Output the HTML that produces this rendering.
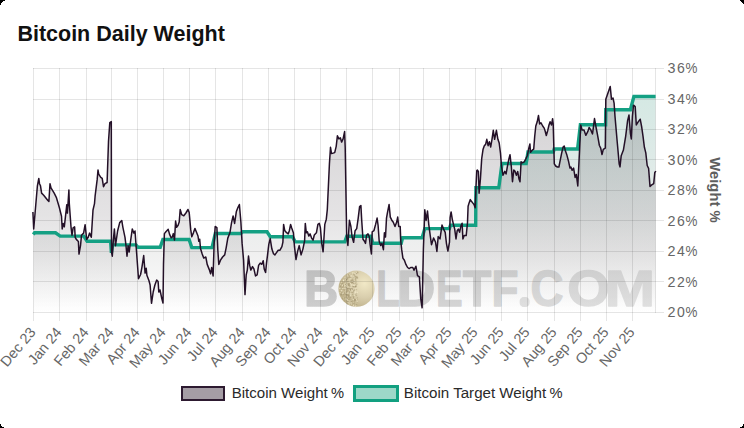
<!DOCTYPE html>
<html><head><meta charset="utf-8"><style>
html,body{margin:0;padding:0;background:#000;width:744px;height:428px;overflow:hidden}
.card{position:absolute;left:0;top:0;width:744px;height:428px;background:#fff;overflow:hidden}
svg{position:absolute;left:0;top:0}
text{font-family:"Liberation Sans",sans-serif}
</style></head><body><div class="card">
<svg width="744" height="428" viewBox="0 0 744 428">
<defs>
<linearGradient id="gw" x1="0" y1="68.5" x2="0" y2="312.5" gradientUnits="userSpaceOnUse">
<stop offset="0" stop-color="#4a404a" stop-opacity="0.26"/>
<stop offset="0.6" stop-color="#4c444c" stop-opacity="0.15"/>
<stop offset="1" stop-color="#505050" stop-opacity="0.0"/>
</linearGradient>
<linearGradient id="gt" x1="0" y1="68.5" x2="0" y2="312.5" gradientUnits="userSpaceOnUse">
<stop offset="0" stop-color="#3ca087" stop-opacity="0.24"/>
<stop offset="0.45" stop-color="#4f8a7c" stop-opacity="0.17"/>
<stop offset="0.74" stop-color="#6a6e6d" stop-opacity="0.11"/>
<stop offset="1" stop-color="#707070" stop-opacity="0.0"/>
</linearGradient>
<radialGradient id="coin" cx="0.72" cy="0.36" r="0.7">
<stop offset="0" stop-color="#f1e8c6"/>
<stop offset="0.55" stop-color="#d9cead"/>
<stop offset="1" stop-color="#bfb28c"/>
</radialGradient>
<linearGradient id="wmg" x1="307" y1="0" x2="652" y2="0" gradientUnits="userSpaceOnUse"><stop offset="0" stop-color="#4c4c4c"/><stop offset="1" stop-color="#a6a6a6"/></linearGradient>
<clipPath id="pc"><rect x="33.4" y="68.5" width="622.3000000000001" height="244.0"/></clipPath>
</defs>
<text transform="translate(17.4,40.9) scale(1.0,1)" font-size="21.5" font-weight="bold" fill="#111">Bitcoin Daily Weight</text>
<g clip-path="url(#pc)">
<path d="M33.3,234.6 34.6,232.8 55.5,232.8 60.2,236.1 83.8,236.1 87.1,241.2 110.6,241.2 111.4,253 112.3,246 113.3,244.9 136,244.9 138.1,247.3 160.2,247.3 162.9,239.5 189.1,239.5 191.8,247.6 212,247.6 215.3,233.5 240.8,233.5 242.8,231.8 267,231.8 270.3,236.8 292.5,236.8 295.2,241.9 344.8,241.9 346.8,236.2 371,236.2 372.7,243.2 401.2,243.2 402.6,237.8 422.1,237.8 424.8,228.6 449.4,228.6 450.5,225.3 475.7,225.3 475.9,187.8 498.8,187.8 502,163.5 526.2,163.5 528,152 553.3,152 554.2,149 577.6,149 580.4,124.7 605.6,124.7 605.8,109.7 630.4,109.7 633.9,96.5 655.6,96.5 L655.6,312.5 L33.3,312.5 Z" fill="url(#gt)"/>
<path d="M32.9,212 33.7,229 37.4,185.8 38.8,178.4 39.5,183.7 40.5,185.8 41.6,193.1 43.7,195.2 47.9,200.5 48.9,201.5 50,183.7 51,187.9 54.2,193.1 56.3,197.3 59.4,207.8 61.5,216.3 62.2,228.9 63.2,223.6 64.3,226.8 66.8,204.7 67.4,213.1 68.9,190 69.3,203.6 71,226.8 72,235.2 73.1,227.8 74.6,226.8 75.2,237.3 76.3,239.4 78.4,241.5 79,254.1 80.5,245.7 81.5,235.2 83.6,233.1 85.1,224.7 86.7,239.4 88.2,237.3 89.6,233.1 91.3,237.3 93,210 94.5,203.6 95.1,196.2 97.2,179.4 98,170 98.7,174.1 100.8,177.3 102.2,178.3 103.5,186.7 105,183.6 107.1,182.5 108.5,141.5 109.8,122.6 111.3,121.6 111.5,252 112.3,256.2 113.4,239.4 114.4,228.9 115.5,245.7 117.6,231 119.7,222.6 121.8,220.5 122.8,226.8 125,237.3 126,245.7 127,256.2 128.1,245.7 129.2,252 130.8,239.4 132.3,228.9 133.8,233.1 135,231 136.4,250 138.5,278.7 140.6,274.5 142,266.8 143.7,255.6 145.1,273.1 146.2,268.2 146.9,275.2 149,280.8 150.1,285 151.5,303.3 153.2,292 154.9,285 156.7,280.1 158.1,281.5 158.8,292 160,290 161.6,297.7 163,303 163.5,264 164.4,233.6 166.1,231.5 168.2,229.4 169.7,234.7 171.2,237.8 172.4,236.8 173.3,233.6 174.5,240 175.6,221 176.6,227.3 178.1,225.2 179.2,222.1 180.2,209.5 181.7,214.7 183.8,215.8 185.9,213 188,209.5 189.2,212.6 190.7,229.4 191.8,236.8 193.5,232.6 194.9,228.4 196.3,231.8 198,236 198.8,241.3 199.7,239.2 200.5,248.6 202.2,253.9 203.7,258.1 205.8,257 207.2,264.4 209.3,269.6 210.6,273.8 211.7,267.5 213.1,276 214.2,241.3 215.2,226.5 216.9,227.6 217.8,249.7 218.8,264.4 220.5,260.2 222.6,257 224.7,254.9 226.2,247.6 227.8,238.1 229.9,232.8 231.6,222.3 233.1,216 234.6,223.4 236.3,211.8 237.9,207.6 239.4,204.5 240.9,222.3 242.1,243.4 243.6,260.2 245,294.6 246.2,274.8 247.3,270.1 248.5,256.1 249.7,265.4 250.8,270.1 252.5,266.6 253.9,268.9 255.5,275.9 257.1,274.8 258.6,265.4 260.2,263.1 261.8,264.3 263.2,260.7 264.2,268.9 265.6,272.4 266.5,263.1 267.7,253.7 268.8,244.4 270.2,238.6 271.9,249.1 273.5,253.7 274.9,254.9 276.5,252.6 278.2,250.2 280,250.2 281.9,246.7 282.9,242.1 283.6,224.5 284.7,230.4 286.6,232.7 288.2,233.9 289.4,230.4 290.6,224.5 291.7,228 293.4,232.7 294.5,246.7 296,259.6 297.6,251.4 299.2,245.6 301.1,254.9 302.9,249.1 304.6,240.9 305.3,223.4 306.3,232.8 307.4,231.8 308.8,236 310.1,233.9 311.6,238.1 313,240.2 314.3,235 316.4,232.8 317.9,224.4 319.3,223.4 320.4,227.6 321.7,243.4 323.1,251.8 324.8,224.4 326.3,219.2 327.3,209.7 329.4,164.2 330.5,147.3 331.5,153.6 334.7,152.6 336.2,146.3 337.4,135.8 338.9,138.9 340.4,137.9 341.6,142.1 343.1,138.9 344.6,131.6 345.2,147.3 346.7,237 347.9,245.5 349.4,220.2 350.9,226.5 352.1,237 353.6,242.3 355.1,230.7 356.7,228.6 358.2,218.1 359.6,206.6 360.9,205.5 361.7,220.2 363,239.2 364.5,241.3 365.5,243.4 366.6,235 368,233.9 369.3,237 370.1,244.4 371.4,253.9 372.2,231.8 373.9,230.7 375.6,224.4 377.1,218.1 378.1,225.5 379.2,241.3 380.7,245.5 381.9,243.4 383.4,249.7 384.4,232.8 385.5,237 386.5,218.1 387.6,211.8 389.1,204.5 390.3,217.1 391.8,220.2 393.3,222.3 395,226.5 396.6,222.3 397.7,217.1 398.7,226.5 400.2,226.5 400.8,241.3 401.7,249.7 402.9,258.1 404.4,260.2 405.9,264.4 407.6,267.5 409.2,268.6 410.7,267.5 412.8,267.5 414,270.2 415.9,266.2 417.5,275.6 419.4,276.9 420.7,298.4 422.1,307.8 423.4,248.7 424.8,209.8 426.1,220.5 427.5,211.1 428.8,224.6 430.2,235.3 431.5,244.7 433.6,238 435.5,242 436.9,251.4 438.2,236.6 440,238.9 442,225 443.6,229.1 445.2,232.3 446.5,243.8 447.9,251 449.5,242.2 450.1,217.6 451.1,211.9 452.3,219.3 453.4,224.2 454.7,229.1 456,238.9 457.2,230.7 458.3,229.1 459.6,232.3 460.9,225.8 462.1,223.3 462.9,238.9 464.2,235.6 466.2,235.6 467.5,222.5 468.1,206.2 469.1,202.9 470.3,199.6 471.4,201.3 472.7,202.9 474,204.5 475.2,207.8 476,186.5 476.8,170.5 477.3,170.1 478.4,171.4 479.1,193.2 480.4,179.1 481.7,158.6 483,149.6 484.3,145.7 485.6,144.4 486.8,139.3 488.1,145.7 489.4,141.8 490.7,147 492,139.3 493.3,130.3 494.6,139.3 496.4,130.3 497.9,139.3 499.2,143.1 500.5,153.4 501.5,166.3 503,175.3 504.8,171.4 506.1,174 507.4,166.3 508.7,159.8 510,154.7 511.3,166.3 512.5,181.7 513.8,170.1 515.1,171.4 516.4,175.3 517.7,171.4 519,179.1 520,181.7 521.1,161.8 522.5,162.8 524.2,161.8 525.9,158.6 527.4,155.5 528.8,148.1 529.9,143.9 530.5,152.3 532.2,150.2 533.7,149.2 534.7,136.5 535.8,126 537.2,121.8 538.5,115.5 539.6,123.9 541,122.9 542.7,126 544.2,128.1 545.2,131.3 546.3,135.5 547.8,130.2 549,125 550.1,121.8 551.5,125 552.6,118.7 553.2,123.9 554.3,163.9 555.7,166 557.4,167 558.9,167 559.9,161.8 561.6,153.4 563.1,147 564.2,146 565.2,150.2 566.7,154.4 568.4,160.7 570,168.1 570.9,167 572.1,170.2 573.6,168.1 575.1,177.5 576.3,174.4 577.8,185.9 579.6,149.4 580.7,125 582.2,130.1 584,130.1 585.8,135.3 587.9,131.4 589.1,127.5 590.9,130.1 592.5,134 593.5,126.3 594.5,118.6 596.1,127.5 597.6,135.3 599.4,145.5 600.7,148.1 602,154.5 603.3,149.4 605.3,148.1 605.8,99.3 607.1,95.4 608.9,90.3 610.2,86.4 611.5,99.3 613,98 614.1,103.1 614.8,113.4 615,116.4 617.2,141.7 619.2,164.1 620,166.9 621.2,155.7 623.4,150.1 625.7,136.1 627.6,120.6 629,115 630.4,133.3 631.3,138.9 632.4,116.4 633.5,105.2 635.2,106.6 636.3,124.9 638,122.1 640.2,119.2 641.6,126.3 643,136.1 644.4,147.3 645.8,152.9 647.2,165.5 648.6,168.3 650,186.5 651.4,185.1 653.7,183.7 654.8,172.5 655.9,171.1 L655.9,312.5 L32.9,312.5 Z" fill="url(#gw)"/>
</g>
<g opacity="0.25"><g font-size="50.0" font-weight="bold"  stroke-width="1.3" stroke-linejoin="round"><text transform="translate(304.11,306.3) scale(0.951,1)" fill="#434343" stroke="#434343">B</text><text transform="translate(376.13,306.3) scale(0.768,1)" fill="#535353" stroke="#535353">L</text><text transform="translate(397.26,306.3) scale(1.057,1)" fill="#5a5a5a" stroke="#5a5a5a">D</text><text transform="translate(436.12,306.3) scale(0.799,1)" fill="#616161" stroke="#616161">E</text><text transform="translate(462.78,306.3) scale(0.937,1)" fill="#676767" stroke="#676767">T</text><text transform="translate(491.44,306.3) scale(0.884,1)" fill="#6e6e6e" stroke="#6e6e6e">F</text><rect x="520.3" y="297.6" width="8.6" height="8.8" rx="3.5" fill="#8a8a8a" stroke="#8a8a8a"/><text transform="translate(530.43,306.3) scale(0.914,1)" fill="#787878" stroke="#787878">C</text><text transform="translate(567.25,306.3) scale(1.096,1)" fill="#818181" stroke="#818181">O</text><text transform="translate(604.75,306.3) scale(1.210,1)" fill="#8b8b8b" stroke="#8b8b8b">M</text></g></g>
<circle cx="356.5" cy="288.7" r="18.1" fill="url(#coin)"/><g><rect x="350.5" y="273.2" width="0.8" height="1.2" fill="#f4ecd0" opacity="0.75"/><rect x="355.3" y="278.4" width="1.0" height="0.8" fill="#9c8f6c" opacity="0.75"/><rect x="340.1" y="286.0" width="0.8" height="0.9" fill="#f4ecd0" opacity="0.75"/><rect x="349.1" y="285.0" width="0.7" height="1.4" fill="#b3a681" opacity="0.75"/><rect x="353.6" y="277.1" width="1.2" height="0.9" fill="#f4ecd0" opacity="0.75"/><rect x="348.9" y="293.0" width="1.2" height="1.0" fill="#a89b76" opacity="0.75"/><rect x="344.2" y="291.8" width="1.0" height="0.9" fill="#a89b76" opacity="0.75"/><rect x="347.6" y="283.0" width="0.9" height="1.5" fill="#a89b76" opacity="0.75"/><rect x="340.6" y="285.7" width="0.8" height="1.1" fill="#efe6c6" opacity="0.75"/><rect x="352.6" y="291.3" width="1.0" height="1.0" fill="#efe6c6" opacity="0.75"/><rect x="347.6" y="299.4" width="1.4" height="1.5" fill="#9c8f6c" opacity="0.75"/><rect x="347.2" y="294.6" width="1.3" height="0.9" fill="#9c8f6c" opacity="0.75"/><rect x="349.1" y="295.3" width="0.9" height="1.0" fill="#a89b76" opacity="0.75"/><rect x="347.0" y="276.7" width="1.1" height="0.9" fill="#9c8f6c" opacity="0.75"/><rect x="343.7" y="297.3" width="1.0" height="1.4" fill="#a89b76" opacity="0.75"/><rect x="339.9" y="286.9" width="0.9" height="0.8" fill="#f4ecd0" opacity="0.75"/><rect x="346.4" y="290.5" width="1.5" height="1.2" fill="#a89b76" opacity="0.75"/><rect x="345.5" y="279.0" width="0.8" height="0.9" fill="#9c8f6c" opacity="0.75"/><rect x="342.7" y="288.2" width="0.8" height="0.9" fill="#f4ecd0" opacity="0.75"/><rect x="341.1" y="290.0" width="1.2" height="1.5" fill="#f4ecd0" opacity="0.75"/><rect x="351.2" y="289.3" width="1.2" height="1.3" fill="#f4ecd0" opacity="0.75"/><rect x="346.9" y="302.1" width="1.0" height="1.0" fill="#f4ecd0" opacity="0.75"/><rect x="340.3" y="293.6" width="0.9" height="1.5" fill="#9c8f6c" opacity="0.75"/><rect x="346.6" y="274.6" width="0.7" height="0.7" fill="#f4ecd0" opacity="0.75"/><rect x="354.7" y="292.8" width="1.2" height="1.5" fill="#b3a681" opacity="0.75"/><rect x="349.6" y="287.8" width="1.4" height="1.5" fill="#9c8f6c" opacity="0.75"/><rect x="347.1" y="288.1" width="0.8" height="1.3" fill="#9c8f6c" opacity="0.75"/><rect x="352.2" y="287.9" width="1.1" height="0.9" fill="#b3a681" opacity="0.75"/><rect x="356.1" y="283.7" width="1.3" height="0.9" fill="#9c8f6c" opacity="0.75"/><rect x="350.4" y="273.9" width="1.1" height="1.4" fill="#efe6c6" opacity="0.75"/><rect x="345.0" y="278.7" width="1.3" height="1.0" fill="#f4ecd0" opacity="0.75"/><rect x="356.7" y="301.5" width="1.3" height="0.9" fill="#a89b76" opacity="0.75"/><rect x="348.0" y="283.5" width="1.5" height="1.3" fill="#9c8f6c" opacity="0.75"/><rect x="347.2" y="277.6" width="1.5" height="1.1" fill="#f4ecd0" opacity="0.75"/><rect x="342.2" y="293.2" width="1.4" height="1.1" fill="#f4ecd0" opacity="0.75"/><rect x="350.5" y="299.5" width="1.4" height="0.8" fill="#9c8f6c" opacity="0.75"/><rect x="345.6" y="296.4" width="1.1" height="0.8" fill="#b3a681" opacity="0.75"/><rect x="353.1" y="282.6" width="1.1" height="1.3" fill="#a89b76" opacity="0.75"/><rect x="356.9" y="271.6" width="1.3" height="0.8" fill="#a89b76" opacity="0.75"/><rect x="350.6" y="283.3" width="1.1" height="0.7" fill="#f4ecd0" opacity="0.75"/><rect x="353.3" y="296.9" width="1.1" height="1.4" fill="#9c8f6c" opacity="0.75"/><rect x="346.5" y="302.2" width="0.7" height="0.9" fill="#b3a681" opacity="0.75"/><rect x="347.7" y="298.2" width="0.9" height="1.0" fill="#efe6c6" opacity="0.75"/><rect x="345.0" y="287.2" width="1.4" height="1.1" fill="#f4ecd0" opacity="0.75"/><rect x="353.8" y="302.4" width="1.1" height="1.1" fill="#b3a681" opacity="0.75"/><rect x="353.3" y="276.8" width="1.2" height="0.8" fill="#a89b76" opacity="0.75"/><rect x="348.3" y="288.1" width="1.4" height="0.7" fill="#9c8f6c" opacity="0.75"/><rect x="340.2" y="287.0" width="1.3" height="1.4" fill="#9c8f6c" opacity="0.75"/><rect x="346.6" y="292.8" width="1.2" height="0.9" fill="#f4ecd0" opacity="0.75"/><rect x="343.6" y="289.0" width="1.1" height="0.9" fill="#a89b76" opacity="0.75"/><rect x="348.1" y="302.3" width="1.4" height="1.4" fill="#efe6c6" opacity="0.75"/><rect x="342.2" y="286.8" width="0.8" height="1.1" fill="#a89b76" opacity="0.75"/><rect x="353.0" y="303.1" width="1.5" height="1.2" fill="#b3a681" opacity="0.75"/><rect x="345.2" y="279.8" width="1.5" height="0.9" fill="#b3a681" opacity="0.75"/><rect x="346.4" y="289.3" width="1.0" height="1.0" fill="#efe6c6" opacity="0.75"/><rect x="340.1" y="283.8" width="1.1" height="1.1" fill="#efe6c6" opacity="0.75"/><rect x="350.0" y="289.1" width="0.8" height="1.4" fill="#9c8f6c" opacity="0.75"/><rect x="355.2" y="277.2" width="1.4" height="1.4" fill="#b3a681" opacity="0.75"/><rect x="351.0" y="304.8" width="0.8" height="1.4" fill="#a89b76" opacity="0.75"/><rect x="349.0" y="296.0" width="0.9" height="1.3" fill="#9c8f6c" opacity="0.75"/><rect x="349.7" y="278.7" width="1.4" height="1.1" fill="#efe6c6" opacity="0.75"/><rect x="344.7" y="290.6" width="1.2" height="0.7" fill="#efe6c6" opacity="0.75"/><rect x="351.6" y="304.6" width="0.9" height="0.8" fill="#b3a681" opacity="0.75"/><rect x="355.7" y="293.4" width="0.9" height="1.1" fill="#b3a681" opacity="0.75"/><rect x="341.7" y="283.2" width="1.5" height="0.7" fill="#9c8f6c" opacity="0.75"/><rect x="346.7" y="294.4" width="1.2" height="1.1" fill="#a89b76" opacity="0.75"/><rect x="354.9" y="305.7" width="1.3" height="1.5" fill="#efe6c6" opacity="0.75"/><rect x="344.8" y="300.7" width="1.0" height="1.0" fill="#b3a681" opacity="0.75"/><rect x="354.6" y="294.9" width="1.2" height="1.3" fill="#efe6c6" opacity="0.75"/><rect x="345.2" y="282.5" width="1.0" height="0.7" fill="#f4ecd0" opacity="0.75"/><rect x="354.8" y="278.5" width="0.7" height="1.0" fill="#b3a681" opacity="0.75"/><rect x="347.2" y="288.8" width="0.9" height="1.3" fill="#b3a681" opacity="0.75"/><rect x="341.1" y="291.8" width="0.7" height="0.9" fill="#a89b76" opacity="0.75"/><rect x="342.7" y="291.8" width="1.4" height="0.8" fill="#f4ecd0" opacity="0.75"/><rect x="355.0" y="299.0" width="1.0" height="1.0" fill="#f4ecd0" opacity="0.75"/><rect x="356.7" y="276.0" width="0.7" height="1.4" fill="#b3a681" opacity="0.75"/><rect x="355.0" y="293.3" width="0.8" height="1.1" fill="#f4ecd0" opacity="0.75"/><rect x="347.8" y="300.8" width="1.4" height="1.2" fill="#9c8f6c" opacity="0.75"/><rect x="355.0" y="295.3" width="0.8" height="0.7" fill="#b3a681" opacity="0.75"/><rect x="345.4" y="286.9" width="1.2" height="1.2" fill="#9c8f6c" opacity="0.75"/><rect x="351.1" y="288.3" width="1.1" height="0.8" fill="#9c8f6c" opacity="0.75"/><rect x="348.2" y="297.6" width="0.9" height="0.8" fill="#a89b76" opacity="0.75"/><rect x="343.3" y="297.0" width="0.9" height="1.2" fill="#b3a681" opacity="0.75"/><rect x="347.0" y="301.2" width="1.1" height="1.2" fill="#9c8f6c" opacity="0.75"/><rect x="352.7" y="292.9" width="0.8" height="0.8" fill="#b3a681" opacity="0.75"/><rect x="343.1" y="297.5" width="1.2" height="0.8" fill="#efe6c6" opacity="0.75"/><rect x="347.4" y="288.2" width="1.3" height="1.2" fill="#9c8f6c" opacity="0.75"/><rect x="343.8" y="289.3" width="1.1" height="1.3" fill="#a89b76" opacity="0.75"/><rect x="340.0" y="287.7" width="1.1" height="1.4" fill="#efe6c6" opacity="0.75"/><rect x="342.3" y="291.6" width="1.3" height="0.9" fill="#b3a681" opacity="0.75"/><rect x="345.1" y="292.4" width="0.9" height="0.8" fill="#f4ecd0" opacity="0.75"/><rect x="345.2" y="288.6" width="1.0" height="0.8" fill="#a89b76" opacity="0.75"/><rect x="351.9" y="285.7" width="1.0" height="1.4" fill="#a89b76" opacity="0.75"/><rect x="354.0" y="274.9" width="1.3" height="1.4" fill="#b3a681" opacity="0.75"/><rect x="343.8" y="284.1" width="1.0" height="1.4" fill="#a89b76" opacity="0.75"/><rect x="352.5" y="301.5" width="0.8" height="1.4" fill="#efe6c6" opacity="0.75"/><rect x="343.0" y="280.2" width="1.0" height="1.3" fill="#f4ecd0" opacity="0.75"/><rect x="353.0" y="286.1" width="1.3" height="1.2" fill="#9c8f6c" opacity="0.75"/><rect x="355.4" y="304.7" width="0.9" height="0.8" fill="#f4ecd0" opacity="0.75"/><rect x="355.8" y="285.5" width="1.2" height="0.9" fill="#b3a681" opacity="0.75"/><rect x="340.8" y="287.7" width="0.9" height="0.9" fill="#efe6c6" opacity="0.75"/><rect x="352.1" y="294.2" width="1.2" height="0.9" fill="#a89b76" opacity="0.75"/><rect x="348.8" y="284.9" width="1.2" height="0.8" fill="#b3a681" opacity="0.75"/><rect x="347.7" y="300.0" width="0.9" height="1.4" fill="#f4ecd0" opacity="0.75"/><rect x="342.8" y="280.0" width="0.9" height="0.7" fill="#f4ecd0" opacity="0.75"/><rect x="354.6" y="284.5" width="0.9" height="0.9" fill="#f4ecd0" opacity="0.75"/><rect x="352.4" y="288.6" width="1.5" height="0.8" fill="#f4ecd0" opacity="0.75"/><rect x="347.8" y="293.4" width="0.8" height="1.4" fill="#b3a681" opacity="0.75"/><rect x="345.6" y="294.0" width="1.5" height="1.4" fill="#a89b76" opacity="0.75"/><rect x="355.1" y="287.7" width="1.1" height="0.8" fill="#f4ecd0" opacity="0.75"/><rect x="355.7" y="304.2" width="1.5" height="0.9" fill="#a89b76" opacity="0.75"/><rect x="348.1" y="295.3" width="0.8" height="1.3" fill="#a89b76" opacity="0.75"/><rect x="350.1" y="289.7" width="1.3" height="0.8" fill="#a89b76" opacity="0.75"/><rect x="339.7" y="289.6" width="0.9" height="0.9" fill="#f4ecd0" opacity="0.75"/><rect x="343.6" y="282.1" width="1.1" height="0.9" fill="#b3a681" opacity="0.75"/><rect x="351.5" y="281.7" width="0.9" height="1.4" fill="#9c8f6c" opacity="0.75"/><rect x="350.4" y="273.5" width="1.2" height="1.4" fill="#b3a681" opacity="0.75"/><rect x="344.7" y="285.8" width="0.9" height="1.3" fill="#a89b76" opacity="0.75"/><rect x="352.1" y="288.9" width="1.1" height="0.9" fill="#b3a681" opacity="0.75"/><rect x="352.6" y="277.6" width="0.9" height="1.3" fill="#a89b76" opacity="0.75"/><rect x="347.6" y="277.4" width="1.1" height="1.4" fill="#b3a681" opacity="0.75"/><rect x="349.5" y="285.6" width="0.8" height="1.1" fill="#9c8f6c" opacity="0.75"/><rect x="351.6" y="282.0" width="1.5" height="1.4" fill="#9c8f6c" opacity="0.75"/><rect x="344.5" y="277.3" width="1.3" height="0.7" fill="#f4ecd0" opacity="0.75"/><rect x="350.8" y="284.3" width="1.5" height="1.1" fill="#efe6c6" opacity="0.75"/><rect x="339.9" y="285.8" width="1.1" height="1.3" fill="#9c8f6c" opacity="0.75"/><rect x="345.5" y="298.4" width="1.4" height="1.0" fill="#efe6c6" opacity="0.75"/><rect x="339.3" y="287.7" width="1.1" height="1.1" fill="#efe6c6" opacity="0.75"/><rect x="344.4" y="297.3" width="0.7" height="1.0" fill="#a89b76" opacity="0.75"/><rect x="353.5" y="298.4" width="1.0" height="1.1" fill="#9c8f6c" opacity="0.75"/><rect x="353.3" y="272.8" width="1.3" height="1.4" fill="#b3a681" opacity="0.75"/><rect x="344.7" y="280.5" width="0.7" height="1.3" fill="#f4ecd0" opacity="0.75"/><rect x="351.2" y="304.1" width="0.7" height="1.3" fill="#efe6c6" opacity="0.75"/><rect x="355.4" y="293.6" width="0.7" height="0.9" fill="#9c8f6c" opacity="0.75"/><rect x="346.4" y="288.5" width="0.8" height="1.3" fill="#a89b76" opacity="0.75"/><rect x="352.1" y="300.4" width="1.2" height="1.0" fill="#b3a681" opacity="0.75"/><rect x="344.3" y="283.7" width="0.8" height="0.9" fill="#f4ecd0" opacity="0.75"/><rect x="352.4" y="279.6" width="1.2" height="1.1" fill="#9c8f6c" opacity="0.75"/><rect x="348.5" y="276.4" width="1.4" height="1.5" fill="#a89b76" opacity="0.75"/><rect x="340.2" y="288.6" width="0.8" height="0.8" fill="#a89b76" opacity="0.75"/><rect x="347.0" y="302.9" width="1.3" height="1.4" fill="#b3a681" opacity="0.75"/><rect x="350.8" y="275.0" width="0.9" height="1.2" fill="#efe6c6" opacity="0.75"/><rect x="345.3" y="297.3" width="1.1" height="0.8" fill="#b3a681" opacity="0.75"/><rect x="342.8" y="280.8" width="0.9" height="0.8" fill="#f4ecd0" opacity="0.75"/><rect x="343.1" y="279.5" width="0.9" height="1.3" fill="#f4ecd0" opacity="0.75"/><rect x="340.3" y="287.8" width="1.4" height="1.4" fill="#b3a681" opacity="0.75"/><rect x="356.5" y="291.7" width="1.1" height="0.8" fill="#efe6c6" opacity="0.75"/><rect x="349.6" y="298.7" width="0.8" height="1.2" fill="#9c8f6c" opacity="0.75"/><rect x="349.9" y="278.5" width="1.0" height="0.7" fill="#efe6c6" opacity="0.75"/><rect x="357.0" y="272.0" width="1.4" height="1.4" fill="#b3a681" opacity="0.75"/><rect x="346.0" y="284.1" width="0.9" height="0.9" fill="#f4ecd0" opacity="0.75"/><rect x="353.2" y="290.4" width="1.0" height="1.3" fill="#9c8f6c" opacity="0.75"/><rect x="350.8" y="276.2" width="0.8" height="0.8" fill="#f4ecd0" opacity="0.75"/><rect x="351.3" y="285.4" width="1.2" height="1.0" fill="#efe6c6" opacity="0.75"/><rect x="354.8" y="285.6" width="1.4" height="1.5" fill="#9c8f6c" opacity="0.75"/><rect x="345.2" y="277.7" width="0.9" height="0.7" fill="#a89b76" opacity="0.75"/><rect x="355.2" y="285.9" width="1.0" height="1.4" fill="#9c8f6c" opacity="0.75"/><rect x="347.0" y="276.5" width="0.7" height="0.8" fill="#9c8f6c" opacity="0.75"/><rect x="353.4" y="285.0" width="1.2" height="1.0" fill="#f4ecd0" opacity="0.75"/><rect x="347.8" y="275.9" width="0.8" height="0.8" fill="#efe6c6" opacity="0.75"/><rect x="352.4" y="299.3" width="0.9" height="1.4" fill="#b3a681" opacity="0.75"/><rect x="344.3" y="292.6" width="0.8" height="1.3" fill="#a89b76" opacity="0.75"/><rect x="351.2" y="302.9" width="1.2" height="1.2" fill="#b3a681" opacity="0.75"/><rect x="342.0" y="287.7" width="0.9" height="1.0" fill="#f4ecd0" opacity="0.75"/><rect x="348.0" y="284.5" width="0.8" height="1.5" fill="#9c8f6c" opacity="0.75"/><rect x="353.6" y="277.6" width="1.4" height="1.2" fill="#f4ecd0" opacity="0.75"/><rect x="350.8" y="282.3" width="1.2" height="1.1" fill="#a89b76" opacity="0.75"/><rect x="350.1" y="281.7" width="0.9" height="0.9" fill="#a89b76" opacity="0.75"/><rect x="345.6" y="283.9" width="1.1" height="0.7" fill="#f4ecd0" opacity="0.75"/><rect x="349.9" y="288.3" width="1.1" height="1.2" fill="#b3a681" opacity="0.75"/><rect x="353.6" y="300.9" width="1.0" height="0.8" fill="#a89b76" opacity="0.75"/><rect x="345.1" y="283.8" width="1.1" height="1.2" fill="#a89b76" opacity="0.75"/><rect x="355.6" y="282.0" width="0.7" height="1.1" fill="#9c8f6c" opacity="0.75"/><rect x="356.9" y="297.1" width="0.8" height="1.4" fill="#b3a681" opacity="0.75"/><rect x="343.8" y="300.0" width="1.2" height="1.3" fill="#b3a681" opacity="0.75"/><rect x="349.8" y="279.7" width="1.4" height="0.9" fill="#efe6c6" opacity="0.75"/><rect x="353.6" y="275.8" width="1.5" height="1.1" fill="#f4ecd0" opacity="0.75"/><rect x="349.4" y="292.9" width="1.0" height="0.7" fill="#b3a681" opacity="0.75"/><rect x="355.8" y="295.2" width="1.3" height="0.9" fill="#b3a681" opacity="0.75"/><rect x="352.7" y="272.4" width="1.5" height="1.1" fill="#efe6c6" opacity="0.75"/><rect x="348.1" y="295.5" width="0.9" height="1.1" fill="#9c8f6c" opacity="0.75"/><rect x="354.3" y="297.3" width="0.9" height="1.5" fill="#efe6c6" opacity="0.75"/><rect x="349.1" y="283.6" width="1.1" height="0.8" fill="#9c8f6c" opacity="0.75"/><rect x="352.2" y="272.3" width="0.9" height="1.2" fill="#f4ecd0" opacity="0.75"/><rect x="356.7" y="291.8" width="1.3" height="1.3" fill="#efe6c6" opacity="0.75"/><rect x="342.5" y="281.1" width="1.0" height="1.0" fill="#a89b76" opacity="0.75"/><rect x="339.3" y="288.3" width="1.2" height="0.7" fill="#f4ecd0" opacity="0.75"/><rect x="340.4" y="283.5" width="1.0" height="0.9" fill="#b3a681" opacity="0.75"/><rect x="340.9" y="283.9" width="0.8" height="0.7" fill="#a89b76" opacity="0.75"/><rect x="353.3" y="296.2" width="0.8" height="1.2" fill="#a89b76" opacity="0.75"/><rect x="354.6" y="298.9" width="1.3" height="1.5" fill="#a89b76" opacity="0.75"/><rect x="355.0" y="292.1" width="1.1" height="1.4" fill="#f4ecd0" opacity="0.75"/><rect x="352.0" y="279.6" width="0.7" height="1.1" fill="#9c8f6c" opacity="0.75"/><rect x="346.0" y="279.2" width="1.4" height="0.8" fill="#9c8f6c" opacity="0.75"/><rect x="349.8" y="294.4" width="0.8" height="0.9" fill="#b3a681" opacity="0.75"/><rect x="349.7" y="289.0" width="1.4" height="0.8" fill="#a89b76" opacity="0.75"/><rect x="344.2" y="281.5" width="1.5" height="1.3" fill="#9c8f6c" opacity="0.75"/><rect x="347.3" y="290.1" width="1.4" height="1.3" fill="#a89b76" opacity="0.75"/><rect x="347.1" y="297.5" width="0.8" height="1.5" fill="#a89b76" opacity="0.75"/><rect x="343.3" y="293.9" width="1.0" height="1.3" fill="#9c8f6c" opacity="0.75"/><rect x="351.3" y="301.2" width="0.9" height="1.1" fill="#9c8f6c" opacity="0.75"/><rect x="346.5" y="299.1" width="1.5" height="0.9" fill="#f4ecd0" opacity="0.75"/><rect x="347.8" y="276.7" width="1.4" height="0.9" fill="#b3a681" opacity="0.75"/><rect x="342.0" y="284.7" width="0.9" height="1.4" fill="#f4ecd0" opacity="0.75"/><rect x="350.1" y="295.7" width="1.1" height="1.4" fill="#f4ecd0" opacity="0.75"/><rect x="351.4" y="301.6" width="1.5" height="0.9" fill="#a89b76" opacity="0.75"/><rect x="354.9" y="299.2" width="1.2" height="0.8" fill="#a89b76" opacity="0.75"/><rect x="355.3" y="275.8" width="0.8" height="1.2" fill="#9c8f6c" opacity="0.75"/><rect x="341.0" y="293.9" width="1.3" height="1.3" fill="#9c8f6c" opacity="0.75"/><rect x="339.6" y="292.0" width="0.9" height="1.5" fill="#efe6c6" opacity="0.75"/><rect x="348.3" y="294.6" width="0.8" height="0.9" fill="#a89b76" opacity="0.75"/><rect x="354.2" y="300.0" width="1.4" height="1.2" fill="#9c8f6c" opacity="0.75"/><rect x="342.2" y="282.2" width="0.9" height="1.0" fill="#a89b76" opacity="0.75"/><rect x="355.7" y="272.4" width="1.3" height="1.2" fill="#efe6c6" opacity="0.75"/><rect x="347.3" y="281.0" width="1.3" height="0.7" fill="#9c8f6c" opacity="0.75"/><rect x="348.0" y="274.2" width="1.3" height="1.1" fill="#a89b76" opacity="0.75"/><rect x="342.2" y="298.2" width="0.7" height="1.1" fill="#9c8f6c" opacity="0.75"/><rect x="347.5" y="299.4" width="1.5" height="1.2" fill="#b3a681" opacity="0.75"/><rect x="356.2" y="289.2" width="0.9" height="0.9" fill="#b3a681" opacity="0.75"/><rect x="351.4" y="288.6" width="1.5" height="1.3" fill="#9c8f6c" opacity="0.75"/><rect x="348.8" y="274.4" width="1.0" height="1.0" fill="#efe6c6" opacity="0.75"/><rect x="347.7" y="284.3" width="1.5" height="0.8" fill="#b3a681" opacity="0.75"/><rect x="349.5" y="295.6" width="1.2" height="1.0" fill="#f4ecd0" opacity="0.75"/><rect x="354.1" y="294.6" width="0.8" height="1.1" fill="#efe6c6" opacity="0.75"/><rect x="352.8" y="291.6" width="1.0" height="1.2" fill="#b3a681" opacity="0.75"/><rect x="351.4" y="289.0" width="0.9" height="1.3" fill="#efe6c6" opacity="0.75"/><rect x="354.1" y="276.2" width="1.5" height="1.3" fill="#b3a681" opacity="0.75"/><rect x="349.6" y="283.2" width="1.0" height="0.9" fill="#b3a681" opacity="0.75"/><rect x="356.7" y="299.4" width="0.9" height="0.8" fill="#a89b76" opacity="0.75"/><rect x="355.4" y="280.8" width="1.1" height="0.7" fill="#a89b76" opacity="0.75"/><rect x="354.3" y="286.4" width="1.1" height="1.2" fill="#b3a681" opacity="0.75"/><rect x="347.0" y="275.7" width="1.3" height="0.7" fill="#f4ecd0" opacity="0.75"/><rect x="351.4" y="291.9" width="1.4" height="1.2" fill="#a89b76" opacity="0.75"/><rect x="350.5" y="302.4" width="1.4" height="1.2" fill="#f4ecd0" opacity="0.75"/><rect x="350.3" y="287.0" width="0.9" height="1.3" fill="#efe6c6" opacity="0.75"/><rect x="355.0" y="279.4" width="1.3" height="1.2" fill="#a89b76" opacity="0.75"/><rect x="343.1" y="285.9" width="0.7" height="1.4" fill="#a89b76" opacity="0.75"/><rect x="348.0" y="294.5" width="1.4" height="1.0" fill="#b3a681" opacity="0.75"/><rect x="355.3" y="274.5" width="1.1" height="0.8" fill="#efe6c6" opacity="0.75"/><rect x="352.9" y="304.6" width="1.0" height="1.4" fill="#f4ecd0" opacity="0.75"/><rect x="346.9" y="278.0" width="1.1" height="1.2" fill="#a89b76" opacity="0.75"/><rect x="353.8" y="289.5" width="1.3" height="1.1" fill="#a89b76" opacity="0.75"/><rect x="356.8" y="277.3" width="1.3" height="1.2" fill="#9c8f6c" opacity="0.75"/><rect x="350.3" y="279.7" width="1.0" height="0.7" fill="#a89b76" opacity="0.75"/><rect x="346.2" y="285.8" width="1.2" height="0.8" fill="#efe6c6" opacity="0.75"/><rect x="344.0" y="285.1" width="1.5" height="1.5" fill="#f4ecd0" opacity="0.75"/><rect x="355.7" y="273.1" width="1.1" height="1.1" fill="#b3a681" opacity="0.75"/><rect x="345.0" y="293.7" width="1.1" height="0.9" fill="#a89b76" opacity="0.75"/><rect x="348.6" y="275.1" width="1.0" height="1.4" fill="#a89b76" opacity="0.75"/><rect x="343.4" y="284.2" width="1.5" height="1.2" fill="#efe6c6" opacity="0.75"/><rect x="347.4" y="299.8" width="1.0" height="1.2" fill="#efe6c6" opacity="0.75"/><rect x="344.4" y="288.2" width="1.2" height="1.2" fill="#f4ecd0" opacity="0.75"/><rect x="354.3" y="272.7" width="1.4" height="1.3" fill="#f4ecd0" opacity="0.75"/><rect x="350.6" y="279.7" width="1.2" height="1.4" fill="#9c8f6c" opacity="0.75"/><rect x="341.9" y="287.0" width="0.9" height="1.0" fill="#b3a681" opacity="0.75"/><rect x="348.3" y="292.7" width="1.5" height="0.8" fill="#f4ecd0" opacity="0.75"/><rect x="355.2" y="290.5" width="0.9" height="1.3" fill="#efe6c6" opacity="0.75"/><rect x="348.3" y="297.5" width="1.2" height="0.8" fill="#a89b76" opacity="0.75"/><rect x="340.6" y="285.8" width="1.1" height="1.1" fill="#b3a681" opacity="0.75"/><rect x="347.4" y="303.4" width="0.9" height="0.8" fill="#a89b76" opacity="0.75"/><rect x="349.6" y="297.2" width="1.4" height="1.1" fill="#b3a681" opacity="0.75"/><rect x="348.9" y="294.7" width="1.0" height="1.0" fill="#a89b76" opacity="0.75"/><rect x="356.3" y="273.3" width="0.7" height="0.7" fill="#9c8f6c" opacity="0.75"/><rect x="353.4" y="274.0" width="1.1" height="1.4" fill="#a89b76" opacity="0.75"/><rect x="350.0" y="282.9" width="1.0" height="1.3" fill="#efe6c6" opacity="0.75"/><rect x="348.7" y="303.6" width="1.0" height="1.0" fill="#efe6c6" opacity="0.75"/><rect x="348.7" y="300.5" width="1.0" height="1.1" fill="#efe6c6" opacity="0.75"/><rect x="354.6" y="283.1" width="1.2" height="1.3" fill="#b3a681" opacity="0.75"/><rect x="344.6" y="282.1" width="0.8" height="1.5" fill="#efe6c6" opacity="0.75"/><rect x="345.8" y="290.7" width="1.1" height="0.7" fill="#a89b76" opacity="0.75"/><rect x="349.7" y="294.4" width="1.4" height="1.2" fill="#f4ecd0" opacity="0.75"/><rect x="349.9" y="293.3" width="1.4" height="0.8" fill="#f4ecd0" opacity="0.75"/><rect x="350.0" y="276.9" width="1.4" height="1.0" fill="#b3a681" opacity="0.75"/><rect x="341.0" y="281.8" width="1.4" height="0.8" fill="#efe6c6" opacity="0.75"/><rect x="348.9" y="291.5" width="1.1" height="1.1" fill="#9c8f6c" opacity="0.75"/><rect x="353.7" y="298.6" width="1.2" height="1.4" fill="#a89b76" opacity="0.75"/><rect x="345.6" y="292.0" width="1.1" height="1.0" fill="#b3a681" opacity="0.75"/><rect x="340.3" y="293.9" width="1.4" height="1.2" fill="#b3a681" opacity="0.75"/><rect x="354.4" y="278.5" width="0.8" height="0.7" fill="#9c8f6c" opacity="0.75"/><rect x="351.8" y="279.4" width="1.4" height="1.0" fill="#b3a681" opacity="0.75"/><rect x="352.3" y="295.8" width="1.3" height="0.8" fill="#b3a681" opacity="0.75"/><rect x="350.1" y="296.3" width="1.2" height="1.4" fill="#a89b76" opacity="0.75"/><rect x="355.4" y="272.5" width="0.7" height="0.7" fill="#9c8f6c" opacity="0.75"/><rect x="350.5" y="300.2" width="1.0" height="0.9" fill="#9c8f6c" opacity="0.75"/><rect x="353.9" y="292.6" width="1.0" height="1.2" fill="#efe6c6" opacity="0.75"/><rect x="346.6" y="295.1" width="1.5" height="0.8" fill="#b3a681" opacity="0.75"/><rect x="356.1" y="276.5" width="1.0" height="1.3" fill="#a89b76" opacity="0.75"/><rect x="356.0" y="299.0" width="0.9" height="1.2" fill="#efe6c6" opacity="0.75"/><rect x="350.5" y="299.6" width="1.0" height="1.2" fill="#f4ecd0" opacity="0.75"/><rect x="356.6" y="300.7" width="1.2" height="1.5" fill="#efe6c6" opacity="0.75"/><rect x="343.0" y="284.6" width="1.2" height="1.4" fill="#a89b76" opacity="0.75"/><rect x="353.4" y="280.9" width="1.0" height="0.9" fill="#9c8f6c" opacity="0.75"/><rect x="352.6" y="298.9" width="1.4" height="1.3" fill="#efe6c6" opacity="0.75"/><rect x="354.5" y="291.3" width="1.5" height="1.3" fill="#efe6c6" opacity="0.75"/><rect x="348.6" y="298.7" width="1.0" height="0.8" fill="#a89b76" opacity="0.75"/></g>
<g fill="#000" fill-opacity="0.1"><rect x="33" y="68" width="1" height="253"/><rect x="59" y="68" width="1" height="253"/><rect x="86" y="68" width="1" height="253"/><rect x="111" y="68" width="1" height="253"/><rect x="137" y="68" width="1" height="253"/><rect x="163" y="68" width="1" height="253"/><rect x="189" y="68" width="1" height="253"/><rect x="215" y="68" width="1" height="253"/><rect x="242" y="68" width="1" height="253"/><rect x="268" y="68" width="1" height="253"/><rect x="294" y="68" width="1" height="253"/><rect x="320" y="68" width="1" height="253"/><rect x="346" y="68" width="1" height="253"/><rect x="372" y="68" width="1" height="253"/><rect x="399" y="68" width="1" height="253"/><rect x="423" y="68" width="1" height="253"/><rect x="449" y="68" width="1" height="253"/><rect x="475" y="68" width="1" height="253"/><rect x="501" y="68" width="1" height="253"/><rect x="527" y="68" width="1" height="253"/><rect x="554" y="68" width="1" height="253"/><rect x="580" y="68" width="1" height="253"/><rect x="606" y="68" width="1" height="253"/><rect x="632" y="68" width="1" height="253"/><rect x="655" y="68" width="1" height="245"/><rect x="33" y="68" width="631" height="1"/><rect x="33" y="99" width="631" height="1"/><rect x="33" y="129" width="631" height="1"/><rect x="33" y="159" width="631" height="1"/><rect x="33" y="190" width="631" height="1"/><rect x="33" y="220" width="631" height="1"/><rect x="33" y="251" width="631" height="1"/><rect x="33" y="281" width="631" height="1"/><rect x="33" y="312" width="631" height="1"/></g>
<path d="M33.3,234.6 34.6,232.8 55.5,232.8 60.2,236.1 83.8,236.1 87.1,241.2 110.6,241.2 111.4,253 112.3,246 113.3,244.9 136,244.9 138.1,247.3 160.2,247.3 162.9,239.5 189.1,239.5 191.8,247.6 212,247.6 215.3,233.5 240.8,233.5 242.8,231.8 267,231.8 270.3,236.8 292.5,236.8 295.2,241.9 344.8,241.9 346.8,236.2 371,236.2 372.7,243.2 401.2,243.2 402.6,237.8 422.1,237.8 424.8,228.6 449.4,228.6 450.5,225.3 475.7,225.3 475.9,187.8 498.8,187.8 502,163.5 526.2,163.5 528,152 553.3,152 554.2,149 577.6,149 580.4,124.7 605.6,124.7 605.8,109.7 630.4,109.7 633.9,96.5 655.6,96.5" fill="none" stroke="#14a083" stroke-width="3.4" stroke-linejoin="miter"/>
<path d="M32.9,212 33.7,229 37.4,185.8 38.8,178.4 39.5,183.7 40.5,185.8 41.6,193.1 43.7,195.2 47.9,200.5 48.9,201.5 50,183.7 51,187.9 54.2,193.1 56.3,197.3 59.4,207.8 61.5,216.3 62.2,228.9 63.2,223.6 64.3,226.8 66.8,204.7 67.4,213.1 68.9,190 69.3,203.6 71,226.8 72,235.2 73.1,227.8 74.6,226.8 75.2,237.3 76.3,239.4 78.4,241.5 79,254.1 80.5,245.7 81.5,235.2 83.6,233.1 85.1,224.7 86.7,239.4 88.2,237.3 89.6,233.1 91.3,237.3 93,210 94.5,203.6 95.1,196.2 97.2,179.4 98,170 98.7,174.1 100.8,177.3 102.2,178.3 103.5,186.7 105,183.6 107.1,182.5 108.5,141.5 109.8,122.6 111.3,121.6 111.5,252 112.3,256.2 113.4,239.4 114.4,228.9 115.5,245.7 117.6,231 119.7,222.6 121.8,220.5 122.8,226.8 125,237.3 126,245.7 127,256.2 128.1,245.7 129.2,252 130.8,239.4 132.3,228.9 133.8,233.1 135,231 136.4,250 138.5,278.7 140.6,274.5 142,266.8 143.7,255.6 145.1,273.1 146.2,268.2 146.9,275.2 149,280.8 150.1,285 151.5,303.3 153.2,292 154.9,285 156.7,280.1 158.1,281.5 158.8,292 160,290 161.6,297.7 163,303 163.5,264 164.4,233.6 166.1,231.5 168.2,229.4 169.7,234.7 171.2,237.8 172.4,236.8 173.3,233.6 174.5,240 175.6,221 176.6,227.3 178.1,225.2 179.2,222.1 180.2,209.5 181.7,214.7 183.8,215.8 185.9,213 188,209.5 189.2,212.6 190.7,229.4 191.8,236.8 193.5,232.6 194.9,228.4 196.3,231.8 198,236 198.8,241.3 199.7,239.2 200.5,248.6 202.2,253.9 203.7,258.1 205.8,257 207.2,264.4 209.3,269.6 210.6,273.8 211.7,267.5 213.1,276 214.2,241.3 215.2,226.5 216.9,227.6 217.8,249.7 218.8,264.4 220.5,260.2 222.6,257 224.7,254.9 226.2,247.6 227.8,238.1 229.9,232.8 231.6,222.3 233.1,216 234.6,223.4 236.3,211.8 237.9,207.6 239.4,204.5 240.9,222.3 242.1,243.4 243.6,260.2 245,294.6 246.2,274.8 247.3,270.1 248.5,256.1 249.7,265.4 250.8,270.1 252.5,266.6 253.9,268.9 255.5,275.9 257.1,274.8 258.6,265.4 260.2,263.1 261.8,264.3 263.2,260.7 264.2,268.9 265.6,272.4 266.5,263.1 267.7,253.7 268.8,244.4 270.2,238.6 271.9,249.1 273.5,253.7 274.9,254.9 276.5,252.6 278.2,250.2 280,250.2 281.9,246.7 282.9,242.1 283.6,224.5 284.7,230.4 286.6,232.7 288.2,233.9 289.4,230.4 290.6,224.5 291.7,228 293.4,232.7 294.5,246.7 296,259.6 297.6,251.4 299.2,245.6 301.1,254.9 302.9,249.1 304.6,240.9 305.3,223.4 306.3,232.8 307.4,231.8 308.8,236 310.1,233.9 311.6,238.1 313,240.2 314.3,235 316.4,232.8 317.9,224.4 319.3,223.4 320.4,227.6 321.7,243.4 323.1,251.8 324.8,224.4 326.3,219.2 327.3,209.7 329.4,164.2 330.5,147.3 331.5,153.6 334.7,152.6 336.2,146.3 337.4,135.8 338.9,138.9 340.4,137.9 341.6,142.1 343.1,138.9 344.6,131.6 345.2,147.3 346.7,237 347.9,245.5 349.4,220.2 350.9,226.5 352.1,237 353.6,242.3 355.1,230.7 356.7,228.6 358.2,218.1 359.6,206.6 360.9,205.5 361.7,220.2 363,239.2 364.5,241.3 365.5,243.4 366.6,235 368,233.9 369.3,237 370.1,244.4 371.4,253.9 372.2,231.8 373.9,230.7 375.6,224.4 377.1,218.1 378.1,225.5 379.2,241.3 380.7,245.5 381.9,243.4 383.4,249.7 384.4,232.8 385.5,237 386.5,218.1 387.6,211.8 389.1,204.5 390.3,217.1 391.8,220.2 393.3,222.3 395,226.5 396.6,222.3 397.7,217.1 398.7,226.5 400.2,226.5 400.8,241.3 401.7,249.7 402.9,258.1 404.4,260.2 405.9,264.4 407.6,267.5 409.2,268.6 410.7,267.5 412.8,267.5 414,270.2 415.9,266.2 417.5,275.6 419.4,276.9 420.7,298.4 422.1,307.8 423.4,248.7 424.8,209.8 426.1,220.5 427.5,211.1 428.8,224.6 430.2,235.3 431.5,244.7 433.6,238 435.5,242 436.9,251.4 438.2,236.6 440,238.9 442,225 443.6,229.1 445.2,232.3 446.5,243.8 447.9,251 449.5,242.2 450.1,217.6 451.1,211.9 452.3,219.3 453.4,224.2 454.7,229.1 456,238.9 457.2,230.7 458.3,229.1 459.6,232.3 460.9,225.8 462.1,223.3 462.9,238.9 464.2,235.6 466.2,235.6 467.5,222.5 468.1,206.2 469.1,202.9 470.3,199.6 471.4,201.3 472.7,202.9 474,204.5 475.2,207.8 476,186.5 476.8,170.5 477.3,170.1 478.4,171.4 479.1,193.2 480.4,179.1 481.7,158.6 483,149.6 484.3,145.7 485.6,144.4 486.8,139.3 488.1,145.7 489.4,141.8 490.7,147 492,139.3 493.3,130.3 494.6,139.3 496.4,130.3 497.9,139.3 499.2,143.1 500.5,153.4 501.5,166.3 503,175.3 504.8,171.4 506.1,174 507.4,166.3 508.7,159.8 510,154.7 511.3,166.3 512.5,181.7 513.8,170.1 515.1,171.4 516.4,175.3 517.7,171.4 519,179.1 520,181.7 521.1,161.8 522.5,162.8 524.2,161.8 525.9,158.6 527.4,155.5 528.8,148.1 529.9,143.9 530.5,152.3 532.2,150.2 533.7,149.2 534.7,136.5 535.8,126 537.2,121.8 538.5,115.5 539.6,123.9 541,122.9 542.7,126 544.2,128.1 545.2,131.3 546.3,135.5 547.8,130.2 549,125 550.1,121.8 551.5,125 552.6,118.7 553.2,123.9 554.3,163.9 555.7,166 557.4,167 558.9,167 559.9,161.8 561.6,153.4 563.1,147 564.2,146 565.2,150.2 566.7,154.4 568.4,160.7 570,168.1 570.9,167 572.1,170.2 573.6,168.1 575.1,177.5 576.3,174.4 577.8,185.9 579.6,149.4 580.7,125 582.2,130.1 584,130.1 585.8,135.3 587.9,131.4 589.1,127.5 590.9,130.1 592.5,134 593.5,126.3 594.5,118.6 596.1,127.5 597.6,135.3 599.4,145.5 600.7,148.1 602,154.5 603.3,149.4 605.3,148.1 605.8,99.3 607.1,95.4 608.9,90.3 610.2,86.4 611.5,99.3 613,98 614.1,103.1 614.8,113.4 615,116.4 617.2,141.7 619.2,164.1 620,166.9 621.2,155.7 623.4,150.1 625.7,136.1 627.6,120.6 629,115 630.4,133.3 631.3,138.9 632.4,116.4 633.5,105.2 635.2,106.6 636.3,124.9 638,122.1 640.2,119.2 641.6,126.3 643,136.1 644.4,147.3 645.8,152.9 647.2,165.5 648.6,168.3 650,186.5 651.4,185.1 653.7,183.7 654.8,172.5 655.9,171.1" fill="none" stroke="#231027" stroke-width="1.5" stroke-linejoin="round"/>
<g font-size="13.8" fill="#666"><text transform="translate(667.4,73.1) scale(1.04,1)">3</text><text transform="translate(677.0,73.1) scale(1.02,1)">6</text><text transform="translate(685.6,73.1) scale(0.97,1)">%</text><text transform="translate(667.4,103.6) scale(1.04,1)">3</text><text transform="translate(677.0,103.6) scale(1.02,1)">4</text><text transform="translate(685.6,103.6) scale(0.97,1)">%</text><text transform="translate(667.4,134.1) scale(1.04,1)">3</text><text transform="translate(677.0,134.1) scale(1.02,1)">2</text><text transform="translate(685.6,134.1) scale(0.97,1)">%</text><text transform="translate(667.4,164.6) scale(1.04,1)">3</text><text transform="translate(677.0,164.6) scale(1.02,1)">0</text><text transform="translate(685.6,164.6) scale(0.97,1)">%</text><text transform="translate(667.4,195.1) scale(1.04,1)">2</text><text transform="translate(677.0,195.1) scale(1.02,1)">8</text><text transform="translate(685.6,195.1) scale(0.97,1)">%</text><text transform="translate(667.4,225.6) scale(1.04,1)">2</text><text transform="translate(677.0,225.6) scale(1.02,1)">6</text><text transform="translate(685.6,225.6) scale(0.97,1)">%</text><text transform="translate(667.4,256.1) scale(1.04,1)">2</text><text transform="translate(677.0,256.1) scale(1.02,1)">4</text><text transform="translate(685.6,256.1) scale(0.97,1)">%</text><text transform="translate(667.4,286.6) scale(1.04,1)">2</text><text transform="translate(677.0,286.6) scale(1.02,1)">2</text><text transform="translate(685.6,286.6) scale(0.97,1)">%</text><text transform="translate(667.4,317.1) scale(1.04,1)">2</text><text transform="translate(677.0,317.1) scale(1.02,1)">0</text><text transform="translate(685.6,317.1) scale(0.97,1)">%</text></g>
<g font-size="14.8" font-weight="bold" fill="#5e5e5e"><text transform="translate(715.2,157.3) rotate(90)" y="5.2">Weight</text><text transform="translate(715.2,210.4) rotate(90) scale(0.92,1)" y="5.2">%</text></g>
<g font-size="14.5" fill="#666" text-anchor="end"><text transform="translate(36.5,332.5) rotate(-50)" x="0" y="0">Dec 23</text><text transform="translate(62.5,332.5) rotate(-50)" x="0" y="0">Jan 24</text><text transform="translate(89.5,332.5) rotate(-50)" x="0" y="0">Feb 24</text><text transform="translate(114.5,332.5) rotate(-50)" x="0" y="0">Mar 24</text><text transform="translate(140.5,332.5) rotate(-50)" x="0" y="0">Apr 24</text><text transform="translate(166.5,332.5) rotate(-50)" x="0" y="0">May 24</text><text transform="translate(192.5,332.5) rotate(-50)" x="0" y="0">Jun 24</text><text transform="translate(218.5,332.5) rotate(-50)" x="0" y="0">Jul 24</text><text transform="translate(245.5,332.5) rotate(-50)" x="0" y="0">Aug 24</text><text transform="translate(271.5,332.5) rotate(-50)" x="0" y="0">Sep 24</text><text transform="translate(297.5,332.5) rotate(-50)" x="0" y="0">Oct 24</text><text transform="translate(323.5,332.5) rotate(-50)" x="0" y="0">Nov 24</text><text transform="translate(349.5,332.5) rotate(-50)" x="0" y="0">Dec 24</text><text transform="translate(375.5,332.5) rotate(-50)" x="0" y="0">Jan 25</text><text transform="translate(402.5,332.5) rotate(-50)" x="0" y="0">Feb 25</text><text transform="translate(426.5,332.5) rotate(-50)" x="0" y="0">Mar 25</text><text transform="translate(452.5,332.5) rotate(-50)" x="0" y="0">Apr 25</text><text transform="translate(478.5,332.5) rotate(-50)" x="0" y="0">May 25</text><text transform="translate(504.5,332.5) rotate(-50)" x="0" y="0">Jun 25</text><text transform="translate(530.5,332.5) rotate(-50)" x="0" y="0">Jul 25</text><text transform="translate(557.5,332.5) rotate(-50)" x="0" y="0">Aug 25</text><text transform="translate(583.5,332.5) rotate(-50)" x="0" y="0">Sep 25</text><text transform="translate(609.5,332.5) rotate(-50)" x="0" y="0">Oct 25</text><text transform="translate(635.5,332.5) rotate(-50)" x="0" y="0">Nov 25</text></g>
<rect x="182" y="387" width="42" height="13" fill="#a59da5" stroke="#2d1a30" stroke-width="2"/>
<text transform="translate(231.7,397.9) scale(1.026,1)" font-size="14.7" fill="#2a2a2a">Bitcoin Weight</text><text transform="translate(330.9,397.9) scale(1.0,1)" font-size="14.7" fill="#2a2a2a">%</text>
<rect x="354.5" y="386.5" width="43" height="14" fill="#9dd8c8" stroke="#12a080" stroke-width="3"/>
<text transform="translate(403.8,397.9) scale(1.03,1)" font-size="14.7" fill="#2a2a2a">Bitcoin Target Weight</text><text transform="translate(549.4,397.9) scale(1.0,1)" font-size="14.7" fill="#2a2a2a">%</text>
<g fill="#000" shape-rendering="crispEdges"><rect x="0" y="0" width="5" height="1"/><rect x="0" y="1" width="3" height="1"/><rect x="0" y="2" width="2" height="1"/><rect x="0" y="3" width="1" height="2"/><rect x="740" y="0" width="4" height="1"/><rect x="741" y="1" width="3" height="1"/><rect x="742" y="2" width="2" height="1"/><rect x="743" y="3" width="1" height="1"/><rect x="0" y="424" width="1" height="2"/><rect x="0" y="426" width="2" height="1"/><rect x="0" y="427" width="4" height="1"/><rect x="743" y="424" width="1" height="2"/><rect x="742" y="426" width="2" height="1"/><rect x="740" y="427" width="4" height="1"/></g>
</svg></div></body></html>
